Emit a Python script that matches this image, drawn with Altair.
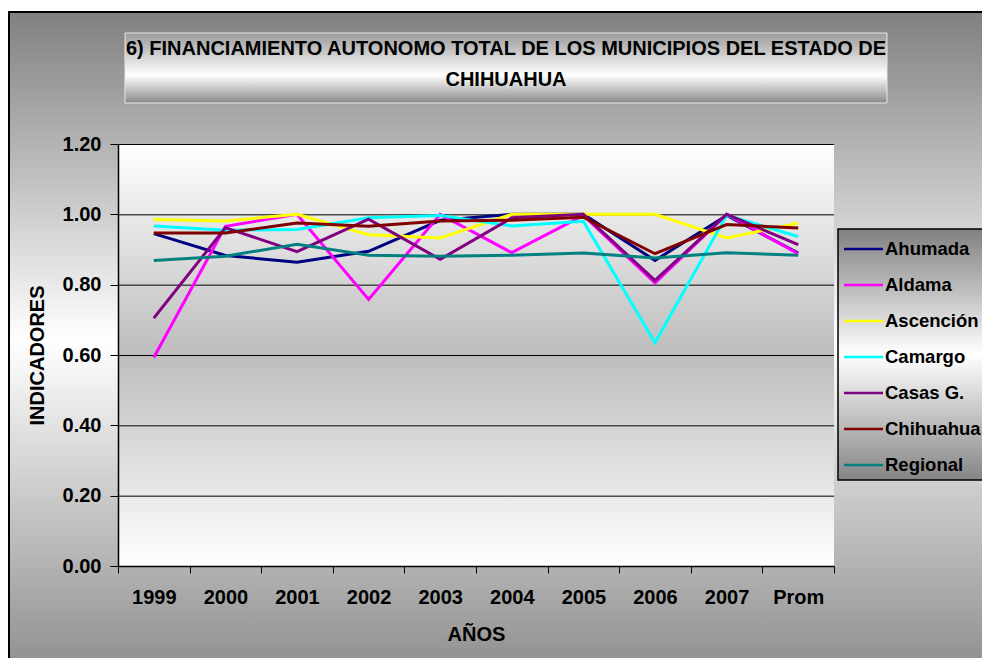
import altair as alt
import pandas as pd

YEARS = ["1999", "2000", "2001", "2002", "2003", "2004", "2005", "2006", "2007", "Prom"]
SERIES = ["Ahumada", "Aldama", "Ascención", "Camargo", "Casas G.", "Chihuahua", "Regional"]
COLORS = ["#000080", "#FF00FF", "#FFFF00", "#00FFFF", "#800080", "#800000", "#008080"]

AHUMADA = [0.945, 0.883, 0.864, 0.895, 0.983, 1.00, 1.00, 0.869, 0.997, 0.89]
ALDAMA = [0.593, 0.966, 1.00, 0.758, 1.00, 0.891, 0.997, 0.805, 1.00, 0.888]
ASCENCION = [0.985, 0.981, 1.00, 0.942, 0.933, 1.00, 1.00, 1.00, 0.933, 0.975]
CAMARGO = [0.967, 0.955, 0.957, 0.99, 0.997, 0.967, 0.98, 0.635, 0.997, 0.937]
CASAS_G = [0.705, 0.962, 0.894, 0.986, 0.872, 0.99, 1.00, 0.812, 1.00, 0.914]
CHIHUAHUA = [0.947, 0.947, 0.975, 0.966, 0.981, 0.983, 0.992, 0.888, 0.971, 0.961]
REGIONAL = [0.869, 0.881, 0.915, 0.884, 0.881, 0.884, 0.89, 0.876, 0.891, 0.884]

Y_TICKS = [0.0, 0.2, 0.4, 0.6, 0.8, 1.0, 1.2]
TITLE_LINES = ["6) FINANCIAMIENTO AUTONOMO TOTAL DE LOS MUNICIPIOS DEL ESTADO DE", "CHIHUAHUA"]
X_TITLE = "AÑOS"
Y_TITLE = "INDICADORES"

VALUES = [AHUMADA, ALDAMA, ASCENCION, CAMARGO, CASAS_G, CHIHUAHUA, REGIONAL]
rows = []
for name, vals in zip(SERIES, VALUES):
    for yr, v in zip(YEARS, vals):
        rows.append({"serie": name, "anio": yr, "valor": v})
df = pd.DataFrame(rows)
grid_df = pd.DataFrame({"valor": Y_TICKS})

FONT = "Liberation Sans, Arial, sans-serif"
W, H = 716, 422
FS = 20


def grad(stops):
    return alt.LinearGradient(
        gradient="linear", x1=0, x2=0, y1=0, y2=1,
        stops=[alt.GradientStop(color=c, offset=o) for o, c in stops],
    )


one = pd.DataFrame({"k": [0]})

outer = alt.Chart(one).mark_rect(
    fill=grad([(0, "#808080"), (0.46, "#ffffff"), (0.95, "#888888"), (1, "#868686")]),
    stroke="black", strokeWidth=2,
).encode(x=alt.value(-109), x2=alt.value(W + 220), y=alt.value(-132), y2=alt.value(H + 160))

plotbg = alt.Chart(one).mark_rect(
    fill=grad([(0, "#ffffff"), (0.5, "#bdbdbd"), (1, "#ffffff")]),
).encode(x=alt.value(0), x2=alt.value(W), y=alt.value(0), y2=alt.value(H))

titlebox = alt.Chart(one).mark_rect(
    fill=grad([(0, "#9a9a9a"), (0.6, "#ffffff"), (1, "#8a8a8a")]),
    stroke="#e8e8e8", strokeWidth=1,
).encode(x=alt.value(7), x2=alt.value(769), y=alt.value(-111), y2=alt.value(-41))

legendbox = alt.Chart(one).mark_rect(
    fill=grad([(0, "#808080"), (0.5, "#ffffff"), (1, "#858585")]),
    stroke="black", strokeWidth=1.5,
).encode(x=alt.value(720), x2=alt.value(W + 220), y=alt.value(85), y2=alt.value(336))

title1 = alt.Chart(one).mark_text(
    font=FONT, fontSize=FS, fontWeight="bold", color="black", align="center", baseline="middle",
).encode(x=alt.value(388), y=alt.value(-95), text=alt.value(TITLE_LINES[0]))

title2 = alt.Chart(one).mark_text(
    font=FONT, fontSize=FS, fontWeight="bold", color="black", align="center", baseline="middle",
).encode(x=alt.value(388), y=alt.value(-64), text=alt.value(TITLE_LINES[1]))

y_axis = alt.Axis(
    title=Y_TITLE, values=Y_TICKS, format=".2f", tickSize=8, labelPadding=9,
    grid=False, domainWidth=1.5, zindex=1,
    titleX=-81, titleY=H / 2, titleAngle=270, titleBaseline="middle", titleAlign="center",
)
y_scale = alt.Scale(domain=[0, 1.2], nice=False, zero=True)

gridlines = alt.Chart(grid_df).mark_rule(color="black", strokeWidth=1, yOffset=0.5).encode(
    y=alt.Y("valor:Q", scale=y_scale, axis=y_axis),
)

lines = alt.Chart(df).mark_line(strokeWidth=3).encode(
    x=alt.X(
        "anio:N", sort=YEARS, bandPosition=0.5,
        scale=alt.Scale(type="band", paddingInner=0, paddingOuter=0),
        axis=alt.Axis(
            title=X_TITLE, labelAngle=0, tickBand="extent", tickSize=7,
            labelPadding=24, labelBaseline="middle", domainWidth=1.5, zindex=1,
            titleX=W / 2, titleY=68, titleBaseline="middle", titleAlign="center",
        ),
    ),
    y=alt.Y("valor:Q", scale=y_scale, axis=y_axis),
    color=alt.Color(
        "serie:N", sort=SERIES,
        scale=alt.Scale(domain=SERIES, range=COLORS),
        legend=alt.Legend(
            title=None, orient="none", legendX=729, legendY=88.5, padding=0,
            symbolType="M-1.3,0H1.3", symbolSize=900, symbolStrokeWidth=2.5,
            labelFont=FONT, labelFontSize=18.5, labelFontWeight="bold", labelColor="black",
            labelOffset=5, rowPadding=10, labelLimit=300,
        ),
    ),
    order=alt.Order("anio:N"),
)

chart = alt.layer(outer, plotbg, titlebox, legendbox, title1, title2, gridlines, lines).properties(
    width=W, height=H,
    padding={"left": 110, "top": 136, "right": 148, "bottom": 92},
    autosize=alt.AutoSizeParams(type="none"),
    background="white",
).configure_view(
    stroke="#808080", strokeWidth=1,
).configure_axis(
    labelFont=FONT, labelFontSize=FS, labelFontWeight="bold", labelColor="black",
    titleFont=FONT, titleFontSize=FS, titleFontWeight="bold", titleColor="black",
    domainColor="black", tickColor="black",
)

chart.save("out.html", embed_options={"renderer": "svg", "actions": False})
